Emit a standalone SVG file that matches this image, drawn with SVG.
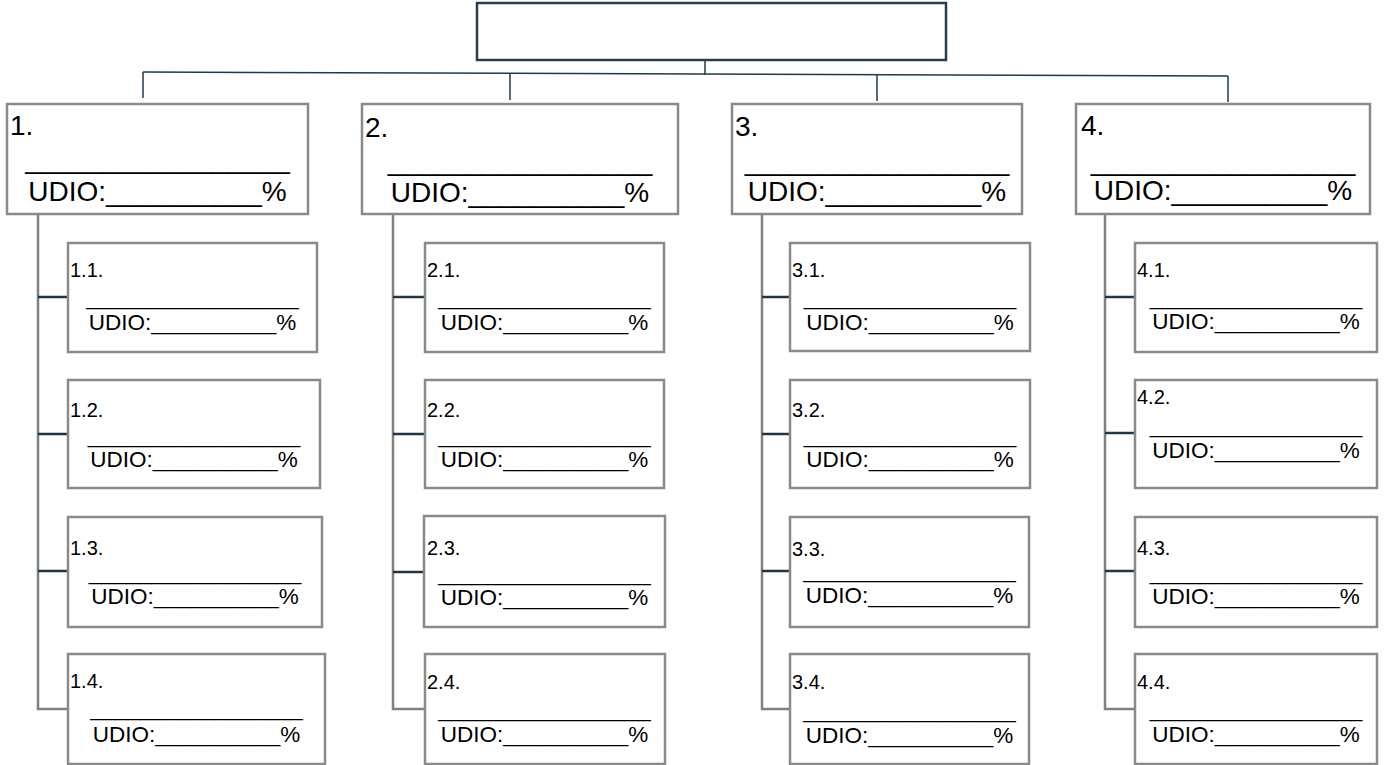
<svg xmlns="http://www.w3.org/2000/svg" width="1384" height="765" viewBox="0 0 1384 765">
<style>
.top{fill:#fff;stroke:#263d4f;stroke-width:2.5}
.b{fill:#fff;stroke:#8a8a8a;stroke-width:2.5}
.t{font-family:"Liberation Sans",Arial,sans-serif;fill:#000}
.l1{font-size:28px}
.l2{font-size:20px}
.u2{font-size:22.5px}
.c{text-anchor:middle}
.cn{fill:none;stroke:#1f3a4d;stroke-width:1.5}
.sp{fill:none;stroke:#808080;stroke-width:2.5}
.br{fill:none;stroke:#1d3646;stroke-width:2.5}
</style>
<g id="connectors">
<line class="cn" x1="705" y1="60" x2="705" y2="75"/>
<line class="cn" x1="143" y1="72" x2="1228" y2="76"/>
<line class="cn" x1="143" y1="72" x2="143" y2="98"/>
<line class="cn" x1="510" y1="73" x2="510" y2="100"/>
<line class="cn" x1="877" y1="75" x2="877" y2="101"/>
<line class="cn" x1="1228" y1="76" x2="1228" y2="102"/>
<polyline class="sp" points="38,214 38,709 68,709"/>
<polyline class="sp" points="393,214 393,709 425,709"/>
<polyline class="sp" points="762,214 762,709 790,709"/>
<polyline class="sp" points="1105,214 1105,709 1135,709"/>
<line class="br" x1="38" y1="297" x2="68" y2="297"/>
<line class="br" x1="38" y1="434" x2="68" y2="434"/>
<line class="br" x1="38" y1="571" x2="68" y2="571"/>
<line class="br" x1="393" y1="297" x2="425" y2="297"/>
<line class="br" x1="393" y1="434" x2="425" y2="434"/>
<line class="br" x1="393" y1="572" x2="424" y2="572"/>
<line class="br" x1="762" y1="297" x2="790" y2="297"/>
<line class="br" x1="762" y1="434" x2="790" y2="434"/>
<line class="br" x1="762" y1="571" x2="790" y2="571"/>
<line class="br" x1="1105" y1="297" x2="1135" y2="297"/>
<line class="br" x1="1105" y1="433" x2="1135" y2="433"/>
<line class="br" x1="1105" y1="571" x2="1135" y2="571"/>
</g>
<g id="root"><rect class="top" x="477" y="3" width="469" height="57"/></g>

<g id="n1"><rect class="b" x="7" y="104" width="301" height="110"/>
<text class="t l1" x="10" y="135">1.</text>
<text class="t l1 c" x="157.5" y="168">_________________</text>
<text class="t l1 c" x="157.5" y="201">UDIO:__________%</text></g>
<g id="n2"><rect class="b" x="362" y="104" width="316" height="110"/>
<text class="t l1" x="365" y="137">2.</text>
<text class="t l1 c" x="520" y="170">_________________</text>
<text class="t l1 c" x="520" y="202">UDIO:__________%</text></g>
<g id="n3"><rect class="b" x="732" y="104" width="290" height="110"/>
<text class="t l1" x="735" y="136">3.</text>
<text class="t l1 c" x="877" y="170">_________________</text>
<text class="t l1 c" x="877" y="201">UDIO:__________%</text></g>
<g id="n4"><rect class="b" x="1076" y="104" width="294" height="110"/>
<text class="t l1" x="1081" y="135">4.</text>
<text class="t l1 c" x="1223" y="170">_________________</text>
<text class="t l1 c" x="1223" y="200">UDIO:__________%</text></g>

<g id="n1-1"><rect class="b" x="68" y="243" width="249" height="109"/>
<text class="t l2" x="70" y="277">1.1.</text>
<text class="t u2 c" x="192.5" y="305">_________________</text>
<text class="t u2 c" x="192.5" y="330">UDIO:__________%</text></g>
<g id="n1-2"><rect class="b" x="68" y="380" width="252" height="108"/>
<text class="t l2" x="70" y="417">1.2.</text>
<text class="t u2 c" x="194" y="443">_________________</text>
<text class="t u2 c" x="194" y="467">UDIO:__________%</text></g>
<g id="n1-3"><rect class="b" x="68" y="517" width="254" height="110"/>
<text class="t l2" x="70" y="555">1.3.</text>
<text class="t u2 c" x="195" y="580">_________________</text>
<text class="t u2 c" x="195" y="604">UDIO:__________%</text></g>
<g id="n1-4"><rect class="b" x="68" y="654" width="257" height="110"/>
<text class="t l2" x="70" y="688">1.4.</text>
<text class="t u2 c" x="196.5" y="716">_________________</text>
<text class="t u2 c" x="196.5" y="742">UDIO:__________%</text></g>

<g id="n2-1"><rect class="b" x="425" y="243" width="239" height="109"/>
<text class="t l2" x="427" y="277">2.1.</text>
<text class="t u2 c" x="544.5" y="305">_________________</text>
<text class="t u2 c" x="544.5" y="330">UDIO:__________%</text></g>
<g id="n2-2"><rect class="b" x="425" y="380" width="239" height="108"/>
<text class="t l2" x="427" y="417">2.2.</text>
<text class="t u2 c" x="544.5" y="443">_________________</text>
<text class="t u2 c" x="544.5" y="467">UDIO:__________%</text></g>
<g id="n2-3"><rect class="b" x="424" y="516" width="241" height="111"/>
<text class="t l2" x="427" y="555">2.3.</text>
<text class="t u2 c" x="544.5" y="581">_________________</text>
<text class="t u2 c" x="544.5" y="605">UDIO:__________%</text></g>
<g id="n2-4"><rect class="b" x="425" y="654" width="240" height="110"/>
<text class="t l2" x="427" y="689">2.4.</text>
<text class="t u2 c" x="544.5" y="717">_________________</text>
<text class="t u2 c" x="544.5" y="742">UDIO:__________%</text></g>

<g id="n3-1"><rect class="b" x="790" y="243" width="240" height="108"/>
<text class="t l2" x="792" y="277">3.1.</text>
<text class="t u2 c" x="910" y="305">_________________</text>
<text class="t u2 c" x="910" y="330">UDIO:__________%</text></g>
<g id="n3-2"><rect class="b" x="790" y="380" width="240" height="108"/>
<text class="t l2" x="792" y="417">3.2.</text>
<text class="t u2 c" x="910" y="443">_________________</text>
<text class="t u2 c" x="910" y="467">UDIO:__________%</text></g>
<g id="n3-3"><rect class="b" x="790" y="517" width="239" height="110"/>
<text class="t l2" x="792" y="556">3.3.</text>
<text class="t u2 c" x="909.5" y="578">_________________</text>
<text class="t u2 c" x="909.5" y="603">UDIO:__________%</text></g>
<g id="n3-4"><rect class="b" x="790" y="654" width="239" height="110"/>
<text class="t l2" x="792" y="689">3.4.</text>
<text class="t u2 c" x="909.5" y="718">_________________</text>
<text class="t u2 c" x="909.5" y="743">UDIO:__________%</text></g>

<g id="n4-1"><rect class="b" x="1135" y="243" width="242" height="109"/>
<text class="t l2" x="1137" y="277">4.1.</text>
<text class="t u2 c" x="1256" y="305">_________________</text>
<text class="t u2 c" x="1256" y="329">UDIO:__________%</text></g>
<g id="n4-2"><rect class="b" x="1135" y="380" width="242" height="108"/>
<text class="t l2" x="1137" y="404">4.2.</text>
<text class="t u2 c" x="1256" y="433">_________________</text>
<text class="t u2 c" x="1256" y="458">UDIO:__________%</text></g>
<g id="n4-3"><rect class="b" x="1135" y="517" width="242" height="110"/>
<text class="t l2" x="1137" y="555">4.3.</text>
<text class="t u2 c" x="1256" y="580">_________________</text>
<text class="t u2 c" x="1256" y="604">UDIO:__________%</text></g>
<g id="n4-4"><rect class="b" x="1135" y="654" width="242" height="110"/>
<text class="t l2" x="1137" y="689">4.4.</text>
<text class="t u2 c" x="1256" y="717">_________________</text>
<text class="t u2 c" x="1256" y="742">UDIO:__________%</text></g>
</svg>
